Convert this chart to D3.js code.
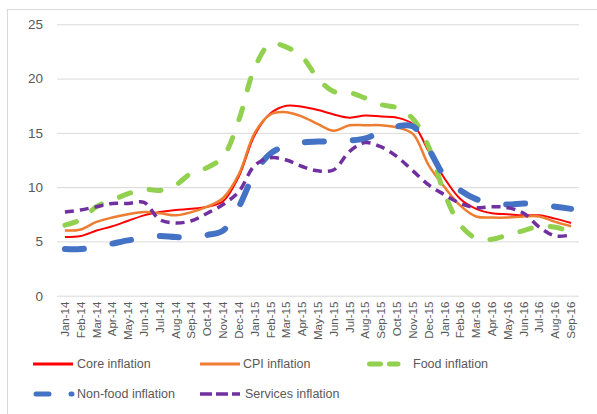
<!DOCTYPE html>
<html>
<head>
<meta charset="utf-8">
<script src="https://cdn.jsdelivr.net/npm/d3@7"></script>
<style>
  body { margin: 0; background: #fff; }
  text { font-family: "Liberation Sans", Arial, sans-serif; fill: #595959; }
</style>
</head>
<body>
<svg width="597" height="414"></svg>
<script>
const months = ["Jan-14","Feb-14","Mar-14","Apr-14","May-14","Jun-14","Jul-14","Aug-14","Sep-14","Oct-14","Nov-14","Dec-14",
  "Jan-15","Feb-15","Mar-15","Apr-15","May-15","Jun-15","Jul-15","Aug-15","Sep-15","Oct-15","Nov-15","Dec-15",
  "Jan-16","Feb-16","Mar-16","Apr-16","May-16","Jun-16","Jul-16","Aug-16","Sep-16"];

const core = [5.4,5.5,6.0,6.4,6.9,7.4,7.7,7.9,8.0,8.2,8.7,11.0,
  14.8,16.8,17.5,17.4,17.1,16.7,16.4,16.6,16.5,16.4,15.8,13.3,
  10.8,8.9,8.0,7.6,7.5,7.4,7.4,7.1,6.7];
const cpi = [6.0,6.1,6.8,7.2,7.5,7.7,7.6,7.4,7.7,8.2,9.0,11.2,
  15.0,16.7,16.9,16.5,15.8,15.2,15.7,15.7,15.7,15.5,14.9,12.0,
  10.0,8.3,7.3,7.2,7.2,7.3,7.3,6.8,6.4];
const food = [6.5,7.0,8.2,8.8,9.4,9.8,9.7,10.2,11.3,11.8,12.8,16.2,
  21.0,23.2,22.9,22.0,20.0,18.8,18.7,18.2,17.6,17.3,16.3,13.7,
  9.4,6.5,5.3,5.2,5.6,6.0,6.4,6.3,5.9];
const nonFood = [4.3,4.3,4.5,4.8,5.1,5.3,5.5,5.4,5.4,5.6,6.0,8.2,
  11.3,13.1,13.8,14.1,14.2,14.2,14.3,14.5,15.1,15.6,15.6,13.5,
  11.0,9.7,8.9,8.6,8.4,8.5,8.4,8.2,8.0];
const services = [7.7,7.9,8.2,8.5,8.5,8.6,7.0,6.7,6.9,7.6,8.4,9.6,
  12.0,12.7,12.5,11.9,11.5,11.6,13.3,14.1,13.7,12.8,11.5,10.2,
  9.3,8.5,8.1,8.2,8.1,7.6,6.3,5.5,5.6];
const yTicks = [0,5,10,15,20,25];

const seriesNames = ["Core inflation","CPI inflation","Food inflation","Non-food inflation","Services inflation"];
const seriesValues = [core, cpi, food, nonFood, services];
const seriesStyle = [
  { color: "#ff0000", width: 2, dash: null, cap: "butt" },
  { color: "#ed7d31", width: 2.5, dash: null, cap: "butt" },
  { color: "#92d050", width: 5, dash: "12,19", cap: "round" },
  { color: "#4472c4", width: 6, dash: "19,29", cap: "round" },
  { color: "#7030a0", width: 3.5, dash: "9,6", cap: "butt" }
];

const svg = d3.select("svg");

// chart frame
svg.append("rect")
  .attr("x", 7.5).attr("y", 9.5)
  .attr("width", 620).attr("height", 430)
  .attr("fill", "none")
  .attr("stroke", "#d9d9d9");

const plotLeft = 57, plotRight = 579, plotTop = 24.3, plotBottom = 295.7;

const x = d3.scaleBand().domain(months).range([plotLeft, plotRight]);
const y = d3.scaleLinear().domain([0, 25]).range([plotBottom, plotTop]);
const xc = m => x(m) + x.bandwidth() / 2;

// gridlines + y labels
const yAxis = svg.append("g")
  .attr("transform", `translate(${plotLeft},0)`)
  .call(d3.axisLeft(y).tickValues(yTicks).tickSize(-(plotRight - plotLeft)).tickPadding(14));
yAxis.select(".domain").remove();
yAxis.selectAll("line").attr("stroke", "#d9d9d9");
yAxis.selectAll("text").style("font-size", "13.5px").attr("fill", "#595959");

// x labels
const xAxis = svg.append("g")
  .attr("transform", `translate(0,${plotBottom})`)
  .call(d3.axisBottom(x).tickSize(0).tickPadding(0));
xAxis.select(".domain").remove();
xAxis.selectAll("text")
  .style("font-size", "11.5px")
  .attr("fill", "#595959")
  .attr("text-anchor", "end")
  .attr("transform", "rotate(-90)")
  .attr("x", -6)
  .attr("y", 0)
  .attr("dy", "0.35em");

// lines
const line = d3.line()
  .x((d, i) => xc(months[i]))
  .y(d => y(d))
  .curve(d3.curveCatmullRom.alpha(0.5));

seriesValues.forEach((vals, k) => {
  const s = seriesStyle[k];
  svg.append("path")
    .datum(vals)
    .attr("d", line)
    .attr("fill", "none")
    .attr("stroke", s.color)
    .attr("stroke-width", s.width)
    .attr("stroke-linecap", s.cap)
    .attr("stroke-linejoin", "round")
    .attr("stroke-dasharray", s.dash);
});

// legend
const legendItems = [
  { x1: 33, x2: 73, tx: 77, y: 364, dash: null, cap: "butt" },
  { x1: 200, x2: 240, tx: 243, y: 364, dash: null, cap: "butt" },
  { x1: 369.5, x2: 398, tx: 413, y: 364, dash: "11,9", cap: "round" },
  { x1: 36, x2: 72, tx: 77, y: 394, dash: "13,22", cap: "round" },
  { x1: 200, x2: 240, tx: 245, y: 394, dash: "12,4", cap: "butt" }
];

legendItems.forEach((d, k) => {
  const s = seriesStyle[k];
  const g = svg.append("g");
  g.append("line")
    .attr("x1", d.x1).attr("x2", d.x2)
    .attr("y1", d.y).attr("y2", d.y)
    .attr("stroke", s.color)
    .attr("stroke-width", k == 0 || k == 1 ? 3 : Math.min(s.width, 5))
    .attr("stroke-linecap", d.cap)
    .attr("stroke-dasharray", d.dash);
  g.append("text")
    .attr("x", d.tx).attr("y", d.y)
    .attr("dy", "0.35em")
    .style("font-size", "12.5px")
    .text(seriesNames[k]);
});
</script>
</body>
</html>
